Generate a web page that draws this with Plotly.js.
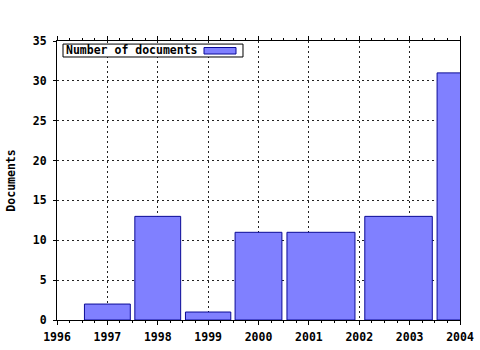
<!DOCTYPE html>
<html>
<head>
<meta charset="utf-8">
<script src="https://cdn.plot.ly/plotly-3.0.1.min.js"></script>
<style>html,body{margin:0;padding:0;background:#fff;}#chart{width:480px;height:350px;}</style>
</head>
<body>
<div id="chart"></div>
<script>
// Data
var barCenters = [1997, 1998, 1999, 2000, 2001.24, 2002.78, 2004];
var documents = [2, 13, 1, 11, 11, 13, 31];
var seriesName = "Number of documents";
var yearTicks = [1996, 1997, 1998, 1999, 2000, 2001, 2002, 2003, 2004];
var docTicks = [0, 5, 10, 15, 20, 25, 30, 35];

var fillColor = "#8080ff";
var edgeColor = "#0a0a96";
var fnt = {family: "DejaVu Sans Mono", size: 11.5, color: "#000", weight: "bold"};

var trace = {
  type: "bar",
  x: barCenters,
  y: documents,
  width: [0.91, 0.91, 0.9, 0.93, 1.35, 1.34, 0.91],
  name: seriesName,
  marker: {color: fillColor, line: {color: edgeColor, width: 1}},
  showlegend: false,
  hoverinfo: "x+y"
};

var layout = {
  width: 480, height: 350,
  margin: {l: 57, r: 20, t: 41, b: 30, pad: 0},
  paper_bgcolor: "#fff", plot_bgcolor: "#fff",
  font: fnt,
  bargap: 0,
  xaxis: {
    range: [1996, 2004], tickvals: yearTicks, ticktext: yearTicks.map(String),
    showline: true, linecolor: "#000", linewidth: 1, mirror: "allticks",
    ticks: "outside", ticklen: 4, tickcolor: "#000", tickwidth: 1,
    ticklabelstandoff: 2,
    minor: {dtick: 0.25, tick0: 1996, ticks: "outside", ticklen: 2, tickcolor: "#000", showgrid: false},
    showgrid: true, gridcolor: "#222", gridwidth: 1, griddash: "2px,3px",
    zeroline: false, tickfont: fnt, fixedrange: true
  },
  yaxis: {
    range: [0, 35], tickvals: docTicks,
    showline: true, linecolor: "#000", linewidth: 1, mirror: true,
    ticks: "outside", ticklen: 3, tickcolor: "#000", tickwidth: 1,
    ticklabelstandoff: 4,
    showgrid: true, gridcolor: "#222", gridwidth: 1, griddash: "2px,3px",
    zeroline: false, tickfont: fnt, fixedrange: true,
    title: {text: "Documents", font: fnt, standoff: 14}
  },
  shapes: [
    {type: "rect", xref: "paper", yref: "paper", x0: 0.0149, x1: 0.4615, y0: 0.9427, y1: 0.989,
     line: {color: "#000", width: 1}, fillcolor: "#fff", layer: "above"},
    {type: "rect", xref: "paper", yref: "paper", x0: 0.3648, x1: 0.4442, y0: 0.9534, y1: 0.9767,
     line: {color: edgeColor, width: 1}, fillcolor: fillColor, layer: "above"}
  ],
  annotations: [
    {xref: "paper", yref: "paper", x: 0.0149, y: 0.966, xanchor: "left", yanchor: "middle",
     text: seriesName, showarrow: false, font: fnt, xshift: 1}
  ]
};

Plotly.newPlot("chart", [trace], layout, {displayModeBar: false, staticPlot: true});
</script>
</body>
</html>
